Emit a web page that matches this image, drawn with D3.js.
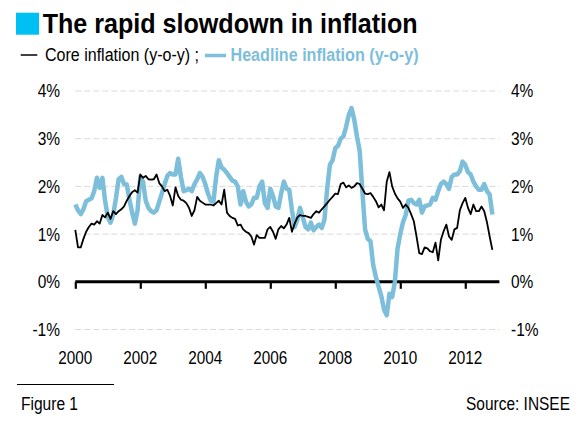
<!DOCTYPE html>
<html><head><meta charset="utf-8">
<script src="https://cdn.jsdelivr.net/npm/d3@7"></script>
<style>html,body{margin:0;padding:0;background:#fff}svg{display:block}text{font-family:"Liberation Sans",Arial,sans-serif}</style>
</head><body><svg id="c" width="580" height="422"></svg>
<script>
const startYear = 2000;
const headline = [
 1.62,1.50,1.42,1.52,1.69,1.72,1.75,1.90,2.18,1.97,2.18,1.70,
 1.35,1.24,1.41,1.75,2.15,2.20,2.05,2.04,1.72,1.45,1.22,1.50,
 2.20,2.10,1.70,1.55,1.48,1.45,1.50,1.68,1.86,2.05,2.22,2.28,
 2.25,2.25,2.58,2.20,1.90,1.92,1.95,1.90,2.05,2.15,2.28,2.20,
 2.05,1.85,1.70,1.68,2.20,2.55,2.40,2.35,2.28,2.20,2.12,2.10,
 2.00,1.62,1.90,1.68,1.58,1.62,1.76,1.76,2.00,2.10,1.65,1.55,
 1.95,1.80,1.58,1.55,1.85,2.10,1.95,1.93,1.50,1.15,1.30,1.55,
 1.35,1.15,1.10,1.24,1.08,1.15,1.20,1.13,1.30,1.95,2.45,2.55,
 2.80,2.85,3.00,3.05,3.25,3.50,3.64,3.40,3.05,2.75,1.90,1.10,
 0.90,0.85,0.35,0.10,-0.10,-0.30,-0.58,-0.70,-0.25,-0.32,0.00,0.70,
 1.00,1.25,1.40,1.70,1.72,1.65,1.62,1.72,1.45,1.58,1.60,1.62,
 1.76,1.72,1.90,2.05,2.10,2.05,1.95,2.20,2.25,2.25,2.32,2.52,
 2.45,2.30,2.25,2.10,2.00,1.93,1.93,2.05,1.90,1.83,1.41
];
const core = [
 1.09,0.72,0.72,0.90,1.05,1.15,1.22,1.20,1.27,1.22,1.40,1.35,
 1.45,1.32,1.48,1.42,1.48,1.52,1.58,1.70,1.80,1.88,1.92,1.87,
 2.25,2.18,2.22,2.15,2.14,2.15,2.25,2.07,2.00,1.90,1.93,1.80,
 1.60,1.98,1.80,1.72,1.70,1.65,1.55,1.38,1.50,1.78,1.70,1.66,
 1.62,1.62,1.62,1.60,1.65,1.70,1.62,1.93,1.45,1.38,1.34,1.32,
 1.18,1.20,1.10,1.05,1.02,0.95,0.78,0.98,0.92,0.92,0.92,1.10,
 1.15,1.05,0.90,1.10,1.17,1.12,1.20,1.34,1.05,1.22,1.35,1.40,
 1.38,1.38,1.36,1.34,1.42,1.48,1.45,1.52,1.58,1.65,1.72,1.78,
 1.85,1.84,2.05,2.08,1.98,2.02,1.97,2.00,2.07,2.05,1.95,1.85,
 1.84,1.86,1.78,1.69,1.56,1.62,1.50,2.10,2.30,2.00,1.85,1.75,
 1.68,1.55,1.62,1.55,1.42,1.27,0.95,0.60,0.58,0.72,0.70,0.64,
 0.62,0.82,0.45,0.88,1.06,1.20,0.95,0.88,1.10,1.13,1.50,1.65,
 1.76,1.55,1.42,1.62,1.48,1.48,1.58,1.48,1.25,0.95,0.67
];
const yearTicks = [2000,2002,2004,2006,2008,2010,2012];
const yTicks = [4,3,2,1,0,-1];
const yTickLabels = ["4%","3%","2%","1%","0%","-1%"];
const titleText = "The rapid slowdown in inflation";
const coreLabel = "Core inflation (y-o-y) ;";
const headLabel = "Headline inflation (y-o-y)";
const figLabel = "Figure 1";
const sourceLabel = "Source: INSEE";

const svg = d3.select("#c");
const x = d3.scaleLinear().domain([2000, 2013.05]).range([75.3, 499.4]);
const y = d3.scaleLinear().domain([-1, 4]).range([329.5, 91]);
const BLUE = "#7DBEDA";

function fit(sel, w){ sel.attr("textLength", w).attr("lengthAdjust","spacingAndGlyphs"); return sel; }
function squeeze(sel, f){ sel.each(function(){ const n=this.getComputedTextLength(); d3.select(this).attr("textLength", n*f).attr("lengthAdjust","spacingAndGlyphs"); }); return sel; }

// gridlines
svg.append("g").selectAll("line").data(yTicks.filter(d=>d!==0)).join("line")
  .attr("x1", x(2000)).attr("x2", x.range()[1])
  .attr("y1", d=>y(d)).attr("y2", d=>y(d))
  .attr("stroke","#d9d9d9").attr("stroke-width",1).attr("stroke-dasharray","6,3");

// y labels left & right
const yl = svg.append("g").selectAll("text").data(yTicks).join("text")
  .attr("x", 60).attr("y", d=>y(d)).attr("dy","0.36em").attr("text-anchor","end")
  .attr("font-size",18).attr("fill","#000").text((d,i)=>yTickLabels[i]);
squeeze(yl, 0.86);
const yr = svg.append("g").selectAll("text").data(yTicks).join("text")
  .attr("x", 511).attr("y", d=>y(d)).attr("dy","0.36em").attr("text-anchor","start")
  .attr("font-size",18).attr("fill","#000").text((d,i)=>yTickLabels[i]);
squeeze(yr, 0.86);

// zero axis with ticks
const xAxis = d3.axisBottom(x).tickValues(yearTicks).tickSize(7).tickFormat("");
const ax = svg.append("g").attr("transform",`translate(0,${y(0)})`).call(xAxis);
ax.select(".domain").attr("stroke","#000").attr("stroke-width",3).attr("d",`M${x(2000)},0H${x.range()[1]}`);
ax.selectAll(".tick line").attr("stroke","#000").attr("stroke-width",2.2);

// year labels
const xl = svg.append("g").selectAll("text").data(yearTicks).join("text")
  .attr("x", d=>x(d)).attr("y", 364).attr("text-anchor","middle")
  .attr("font-size",18).attr("fill","#000").text(d=>d);
fit(xl, 34);

// lines
const line = d3.line().x((d,i)=>x(startYear + i/12)).y(d=>y(d));
svg.append("path").datum(headline).attr("d", line).attr("fill","none")
  .attr("stroke",BLUE).attr("stroke-width",4.5).attr("stroke-linejoin","round").attr("stroke-linecap","butt");
svg.append("path").datum(core).attr("d", line).attr("fill","none")
  .attr("stroke","#000").attr("stroke-width",1.8).attr("stroke-linejoin","round");

// title
svg.append("rect").attr("x",16).attr("y",12.7).attr("width",23).attr("height",22).attr("fill","#00BFF3");
fit(svg.append("text").attr("x",42.7).attr("y",33.3).attr("font-size",27).attr("font-weight","bold")
  .attr("fill","#000").text(titleText), 375);

// legend
svg.append("line").attr("x1",20.7).attr("x2",37.3).attr("y1",55).attr("y2",55).attr("stroke","#000").attr("stroke-width",1.5);
fit(svg.append("text").attr("x",45).attr("y",61).attr("font-size",18).attr("fill","#000").text(coreLabel), 154);
svg.append("line").attr("x1",205).attr("x2",226).attr("y1",55.5).attr("y2",55.5).attr("stroke",BLUE).attr("stroke-width",3.5);
fit(svg.append("text").attr("x",230.5).attr("y",61).attr("font-size",18).attr("font-weight","bold").attr("fill",BLUE).text(headLabel), 188);

// footer
svg.append("line").attr("x1",17).attr("x2",114).attr("y1",384.5).attr("y2",384.5).attr("stroke","#000").attr("stroke-width",1);
fit(svg.append("text").attr("x",21).attr("y",410).attr("font-size",18).attr("fill","#000").text(figLabel), 57);
svg.append("text").attr("transform","translate(570,410) scale(0.86,1)").attr("x",0).attr("y",0)
  .attr("text-anchor","end").attr("font-size",18).attr("fill","#000").text(sourceLabel);
</script></body></html>
